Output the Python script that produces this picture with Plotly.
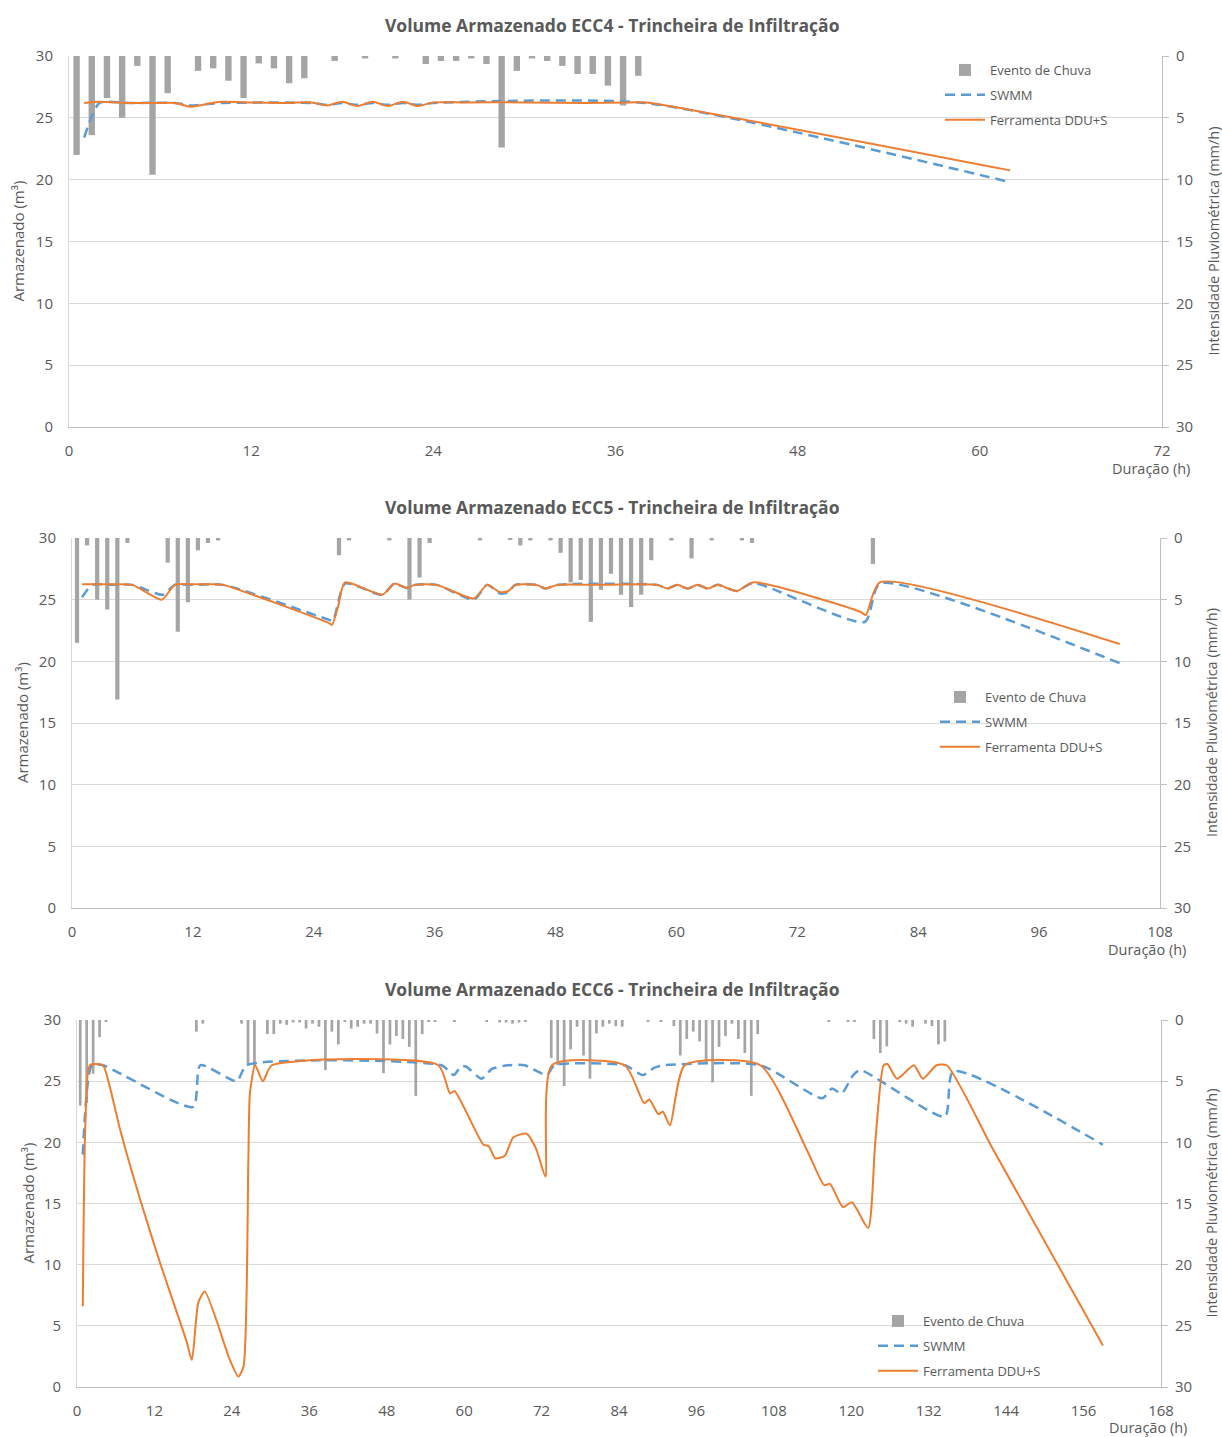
import plotly.graph_objects as go

# page is 1222x1437; the body margin is removed after plotting so the figure fills the page
PAGE_OFF = 0
W, H = 1222, 1437
TXT = "#595959"
FONT = "Open Sans"
C_BAR = "#a5a5a5"
C_SWMM = "#5b9bd5"
C_DDU = "#ed7d31"

# ---------------- ECC4 ----------------
ecc4_rain_h = [0.5, 1.5, 2.5, 3.5, 4.5, 5.5, 6.5, 8.5, 9.5, 10.5, 11.5, 12.5, 13.5, 14.5, 15.5,
               17.5, 19.5, 21.5, 23.5, 24.5, 25.5, 26.5, 27.5, 28.5, 29.5, 30.5, 31.5, 32.5,
               33.5, 34.5, 35.5, 36.5, 37.5]
ecc4_rain = [8.0, 6.4, 3.4, 5.0, 0.8, 9.6, 3.0, 1.2, 1.0, 2.0, 3.4, 0.6, 1.0, 2.2, 1.8,
             0.4, 0.2, 0.2, 0.65, 0.4, 0.4, 0.2, 0.65, 7.4, 1.2, 0.2, 0.4, 0.8,
             1.45, 1.45, 2.4, 4.0, 1.6]
ecc4_swmm_t = [1, 2, 4, 7, 8, 9, 10, 16, 17, 18, 19, 20, 21, 22, 23, 24, 38, 62]
ecc4_swmm_v = [23.4, 26.2, 26.2, 26.2, 26.0, 26.1, 26.2, 26.2, 26.05, 26.2, 26.05, 26.2, 26.05, 26.2, 26.05, 26.2, 26.2, 19.8]
ecc4_ddu_t = [1, 2, 4, 6, 7, 8, 9, 10, 12, 14, 16, 17, 18, 19, 20, 21, 22, 23, 24, 26, 30, 34, 37, 38, 62]
ecc4_ddu_v = [26.2, 26.3, 26.2, 26.2, 26.2, 25.9, 26.1, 26.3, 26.25, 26.2, 26.25, 26.0, 26.3, 25.95, 26.3,
              25.95, 26.3, 25.95, 26.25, 26.25, 26.25, 26.2, 26.25, 26.25, 20.75]

# ---------------- ECC5 ----------------
ecc5_rain_h = [0.5, 1.5, 2.5, 3.5, 4.5, 5.5, 9.5, 10.5, 11.5, 12.5, 13.5, 14.5, 26.5, 27.5, 31.5,
               33.5, 34.5, 35.5, 40.5, 43.5, 44.5, 45.5, 47.5, 48.5, 49.5, 50.5, 51.5, 52.5,
               53.5, 54.5, 55.5, 56.5, 57.5, 59.5, 61.5, 63.5, 66.5, 67.5, 79.5]
ecc5_rain = [8.5, 0.6, 5.0, 5.8, 13.1, 0.4, 2.0, 7.6, 5.2, 1.0, 0.4, 0.2, 1.4, 0.2, 0.2,
             5.0, 3.2, 0.4, 0.2, 0.15, 0.6, 0.2, 0.2, 1.2, 3.6, 3.4, 6.8, 4.2,
             2.9, 4.6, 5.6, 4.6, 1.8, 0.2, 1.65, 0.2, 0.2, 0.4, 2.1]
ecc5_swmm_t = [1, 2, 4, 6, 9.0, 10.2, 12, 15, 25.4, 25.9, 27.1, 30.8, 32, 33.2, 34, 36.2, 39.9, 41.2,
               42.5, 43.3, 44, 46.1, 47, 48.2, 58.1, 59.1, 60.1, 61.1, 62.1, 63.1, 64.1, 66, 67.6,
               78.7, 80.2, 104]
ecc5_swmm_v = [25.2, 26.2, 26.2, 26.2, 25.4, 26.2, 26.2, 26.2, 23.4, 23.3, 26.3, 25.4, 26.3, 25.95, 26.2, 26.2, 25.0, 26.2,
               25.5, 25.6, 26.2, 26.2, 25.9, 26.2, 26.2, 25.9, 26.2, 25.9, 26.2, 25.9, 26.2, 25.7, 26.35,
               23.2, 26.3, 19.85]
ecc5_ddu_t = [1, 2, 4, 6, 8.9, 10.2, 12, 14, 15, 25.5, 25.8, 26.4, 27.1, 30.8, 32, 33.2, 34, 36.2, 39.9,
              41.2, 42.5, 43.3, 44, 46.1, 47, 48.2, 52, 58.1, 59.1, 60.1, 61.1, 62.1, 63.1, 64.1,
              66, 67.6, 78.3, 78.8, 80.2, 104]
ecc5_ddu_v = [26.25, 26.25, 26.25, 26.2, 25.0, 26.2, 26.25, 26.25, 26.2, 23.1, 22.95, 24.4, 26.4, 25.4, 26.3, 25.95, 26.2, 26.2, 25.1,
              26.2, 25.6, 25.7, 26.2, 26.2, 25.9, 26.2, 26.2, 26.2, 25.9, 26.2, 25.9, 26.2, 25.9, 26.2,
              25.7, 26.4, 24.0, 23.75, 26.4, 21.4]

# ---------------- ECC6 ----------------
ecc6_rain_h = [0.5, 1.5, 2.5, 3.5, 4.5, 18.5, 19.5, 25.5, 26.5, 27.5, 29.5, 30.5, 31.5, 32.5, 33.5,
               34.5, 35.5, 36.5, 37.5, 38.5, 39.5, 40.5, 41.5, 42.5, 43.5, 44.5, 45.5, 46.5, 47.5,
               48.5, 49.5, 50.5, 51.5, 52.5, 53.5, 54.5, 55.5, 58.5, 63.5, 65.5, 66.5, 67.5, 68.5,
               69.5, 73.5, 74.5, 75.5, 76.5, 77.5, 78.5, 79.5, 80.5, 81.5, 82.5, 83.5, 84.5, 88.5,
               90.5, 92.5, 93.5, 94.5, 95.5, 96.5, 97.5, 98.5, 99.5, 100.5, 101.5, 102.5, 103.5,
               104.5, 105.5, 116.5, 119.5, 120.5, 123.5, 124.5, 125.5, 127.5, 128.5, 129.5, 131.5,
               132.5, 133.5, 134.5]
ecc6_rain = [7.0, 6.8, 4.4, 1.4, 0.15, 0.95, 0.3, 0.3, 3.75, 3.8, 1.15, 1.15, 0.3, 0.4, 0.2,
             0.2, 0.7, 0.3, 0.55, 4.1, 0.95, 2.0, 0.15, 0.7, 0.55, 0.3, 0.3, 1.1, 4.35,
             2.0, 1.3, 1.55, 2.2, 6.2, 1.15, 0.15, 0.15, 0.15, 0.15, 0.2, 0.2, 0.3, 0.2,
             0.15, 3.1, 3.7, 5.4, 2.4, 0.55, 2.9, 4.8, 1.1, 0.55, 0.3, 0.5, 0.55, 0.15,
             0.15, 0.5, 2.9, 1.55, 0.95, 1.75, 3.6, 5.1, 2.2, 1.3, 0.3, 1.55, 2.7,
             6.2, 1.15, 0.15, 0.15, 0.15, 1.55, 2.7, 2.15, 0.15, 0.3, 0.55, 0.3,
             0.5, 2.0, 1.75]
ecc6_swmm_t = [0.9, 2.3, 4.0, 18.0, 19.1, 24.75, 26.3, 56.5, 58.4, 59.5, 60.3, 62.7, 64.3, 66.8, 69.4,
               72.8, 74.0, 84.9, 87.7, 89.5, 91.0, 105.9, 115.5, 117.0, 118.5, 120.3, 121.4, 134.5,
               135.8, 159]
ecc6_swmm_v = [19.0, 26.3, 26.3, 22.9, 26.3, 25.0, 26.3, 26.3, 25.5, 26.2, 26.2, 25.2, 26.0, 26.3, 26.3,
               25.5, 26.3, 26.3, 25.5, 26.1, 26.3, 26.3, 23.6, 24.4, 24.0, 25.5, 25.9, 22.1,
               25.8, 19.8]
ecc6_ddu_t = [0.9, 1.3, 2.0, 4.0, 5.1, 6.7, 9.8, 12.9, 17.0, 17.8, 18.8, 19.8, 23.7, 25.0, 25.8, 26.55,
              26.8, 27.6, 28.8, 30.2, 56.0, 57.8, 58.5, 63.0, 63.8, 64.8, 66.3, 67.6, 69.7, 71.2, 72.6,
              73.6, 84.9, 87.9, 88.7, 90.1, 90.8, 91.9, 94.2, 105.9, 113.1, 115.8, 116.7, 118.7,
              120.1, 122.6, 123.7, 125.0, 125.6, 127.1, 129.7, 131.1, 133.2, 134.8, 142.0, 159]
ecc6_ddu_v = [6.6, 21.5, 26.3, 26.3, 24.5, 21.0, 15.3, 10.1, 3.7, 2.2, 6.9, 7.8, 2.2, 0.85, 1.65, 18.3,
              24.0, 26.3, 25.0, 26.3, 26.3, 24.0, 24.2, 19.8, 19.7, 18.7, 18.9, 20.4, 20.7, 19.4, 17.2,
              26.3, 26.3, 23.2, 23.5, 22.3, 22.5, 21.4, 26.3, 26.3, 19.4, 16.5, 16.6, 14.7,
              15.1, 13.0, 19.9, 26.3, 26.4, 25.2, 26.3, 25.2, 26.3, 26.3, 19.4, 3.4]

titles = ["Volume Armazenado ECC4 - Trincheira de Infiltração",
          "Volume Armazenado ECC5 - Trincheira de Infiltração",
          "Volume Armazenado ECC6 - Trincheira de Infiltração"]
x_max = [72, 108, 168]
x_tick_step = 12
y_ticks = [0, 5, 10, 15, 20, 25, 30]

# pixel geometry per panel (page coordinates)
panels = [
    dict(l=69, r=1162, t=56, b=427, ty=25, ylt_x=18, yrt_x=1213, dx=1192, dy=468,
         leg=(940, 55)),
    dict(l=72, r=1160, t=538, b=908, ty=507, ylt_x=22, yrt_x=1211, dx=1188, dy=949,
         leg=(935, 682)),
    dict(l=77, r=1161, t=1020, b=1387, ty=989, ylt_x=27, yrt_x=1211, dx=1189, dy=1427,
         leg=(873, 1306)),
]

data = [
    (ecc4_rain_h, ecc4_rain, ecc4_swmm_t, ecc4_swmm_v, ecc4_ddu_t, ecc4_ddu_v),
    (ecc5_rain_h, ecc5_rain, ecc5_swmm_t, ecc5_swmm_v, ecc5_ddu_t, ecc5_ddu_v),
    (ecc6_rain_h, ecc6_rain, ecc6_swmm_t, ecc6_swmm_v, ecc6_ddu_t, ecc6_ddu_v),
]


def px(x):
    return (x - PAGE_OFF) / W


def py(y):
    return 1 - (y - PAGE_OFF) / H


fig = go.Figure()
layout = dict(width=W, height=H, margin=dict(l=0, r=0, t=0, b=0, autoexpand=False),
              paper_bgcolor="white", plot_bgcolor="white",
              font=dict(family=FONT, color=TXT, size=15), showlegend=True)
annotations = []

for i, (p, d) in enumerate(zip(panels, data)):
    rh, rv, st, sv, dt, dv = d
    xa = "x" if i == 0 else f"x{i+1}"
    ya_rain = "y" if i == 0 else f"y{2*i+1}"
    ya_vol = f"y{2*i+2}"
    leg = "legend" if i == 0 else f"legend{i+1}"

    fig.add_trace(go.Bar(x=rh, y=rv, width=0.42, marker=dict(color=C_BAR, line=dict(width=0)),
                         name="Evento de Chuva", xaxis=xa, yaxis=ya_rain, legend=leg,
                         legendgroup=f"b{i}"))
    fig.add_trace(go.Scatter(x=st, y=sv, mode="lines", name="SWMM",
                             line=dict(color=C_SWMM, width=2.5, dash="10px,6px", shape="spline", smoothing=0.6),
                             xaxis=xa, yaxis=ya_vol, legend=leg, legendgroup=f"s{i}"))
    fig.add_trace(go.Scatter(x=dt, y=dv, mode="lines", name="Ferramenta DDU+S",
                             line=dict(color=C_DDU, width=2, shape="spline", smoothing=0.6),
                             xaxis=xa, yaxis=ya_vol, legend=leg, legendgroup=f"d{i}"))

    xdom = [px(p["l"]), px(p["r"])]
    ydom = [py(p["b"]), py(p["t"])]
    xkey = "xaxis" if i == 0 else f"xaxis{i+1}"
    yrkey = "yaxis" if i == 0 else f"yaxis{2*i+1}"
    yvkey = f"yaxis{2*i+2}"

    layout[xkey] = dict(domain=xdom, anchor=ya_rain, range=[0, x_max[i]],
                        tickvals=list(range(0, x_max[i] + 1, x_tick_step)),
                        showgrid=False, zeroline=False, showline=True, linecolor="#bfbfbf",
                        linewidth=1, ticks="outside", ticklen=10, tickcolor="rgba(0,0,0,0)",
                        tickfont=dict(size=15, color=TXT, family=FONT), fixedrange=True,
                        automargin=False)
    layout[yrkey] = dict(domain=ydom, anchor=xa, side="right", range=[30, 0],
                         tickvals=y_ticks, showgrid=False, zeroline=False, showline=True,
                         linecolor="#bfbfbf", linewidth=1, ticks="outside", ticklen=6,
                         tickcolor="#bfbfbf", ticklabelstandoff=4, automargin=False,
                         tickfont=dict(size=15, color=TXT, family=FONT))
    layout[yvkey] = dict(overlaying=ya_rain, anchor=xa, side="left", range=[0, 30],
                         tickvals=y_ticks, showgrid=True, gridcolor="#d9d9d9", gridwidth=1,
                         zeroline=False, showline=True, linecolor="#d9d9d9", linewidth=1,
                         ticks="outside", ticklen=12, tickcolor="rgba(0,0,0,0)", automargin=False,
                         tickfont=dict(size=15, color=TXT, family=FONT))
    lx, ly = p["leg"]
    layout[leg] = dict(x=px(lx), y=py(ly), xanchor="left", yanchor="top",
                       bgcolor="rgba(0,0,0,0)", font=dict(size=13, color=TXT, family=FONT),
                       tracegroupgap=5, traceorder="grouped", itemwidth=40)

    annotations.append(dict(text=f"<b>{titles[i]}</b>", x=px(612), y=py(p["ty"]), xref="paper",
                            yref="paper", showarrow=False, xanchor="center", yanchor="middle",
                            font=dict(size=17.5, color=TXT, family=FONT)))
    annotations.append(dict(text="Armazenado (m³)", x=px(p["ylt_x"]),
                            y=py((p["t"] + p["b"]) / 2), xref="paper", yref="paper",
                            showarrow=False, textangle=-90, xanchor="center", yanchor="middle",
                            font=dict(size=15, color=TXT, family=FONT)))
    annotations.append(dict(text="Intensidade Pluviométrica (mm/h)", x=px(p["yrt_x"]),
                            y=py((p["t"] + p["b"]) / 2), xref="paper", yref="paper",
                            showarrow=False, textangle=-90, xanchor="center", yanchor="middle",
                            font=dict(size=14.5, color=TXT, family=FONT)))
    annotations.append(dict(text="Duração (h)", x=px(p["dx"]), y=py(p["dy"]), xref="paper",
                            yref="paper", showarrow=False, xanchor="right", yanchor="middle",
                            font=dict(size=14.5, color=TXT, family=FONT)))

layout["annotations"] = annotations
fig.update_layout(**layout)
fig.write_html("out.html", config={"displayModeBar": False},
               post_script="document.body.style.margin='0';document.body.style.overflow='hidden';")
